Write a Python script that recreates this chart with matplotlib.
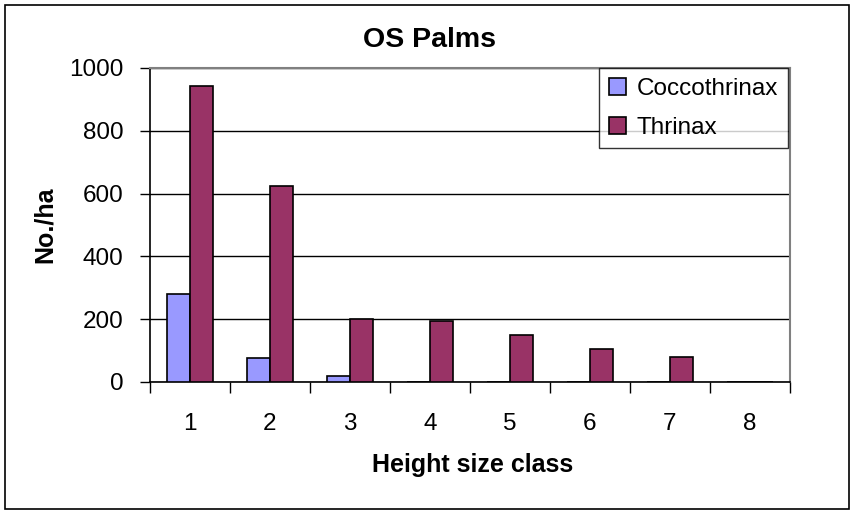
import numpy as np
import matplotlib.pyplot as plt
from matplotlib.patches import Rectangle

plt.rcParams['font.family'] = ['Liberation Sans', 'DejaVu Sans']

classes = [1, 2, 3, 4, 5, 6, 7, 8]
coccothrinax = [280, 78, 20, 0, 0, 0, 0, 0]
thrinax = [943, 625, 200, 194, 149, 105, 79, 0]

W, H = 854, 512
fig = plt.figure(figsize=(W / 100, H / 100), dpi=100)
ax = fig.add_axes([150 / W, 1 - 382 / H, 640 / W, 314 / H])

x = np.array(classes)
w = 1 / 3.5
ax.bar(x - w / 2, coccothrinax, w, color="#9999FF", edgecolor="black", linewidth=1.2,
       label="Coccothrinax", zorder=3)
ax.bar(x + w / 2, thrinax, w, color="#993366", edgecolor="black", linewidth=1.2,
       label="Thrinax", zorder=3)

ax.set_xlim(0.5, 8.5)
ax.set_ylim(0, 1000)
ax.set_yticks(range(0, 1001, 200))
ax.yaxis.grid(True, color="black", linewidth=1, zorder=0)

ax.set_xticks(np.arange(0.5, 9, 1))
ax.set_xticklabels([])
ax.set_xticks(x, minor=True)
ax.set_xticklabels([str(c) for c in classes], minor=True)
ax.tick_params(axis="x", which="major", length=8, width=1, direction="out")
ax.tick_params(axis="x", which="minor", length=0, pad=22, labelsize=17.5)
ax.tick_params(axis="y", length=7, width=1, direction="out", pad=12, labelsize=17.5)

for s in ["left", "bottom"]:
    ax.spines[s].set_color("black")
    ax.spines[s].set_linewidth(1.2)
for s in ["top", "right"]:
    ax.spines[s].set_color("#808080")
    ax.spines[s].set_linewidth(1.5)

fig.text(430 / W, 1 - 40 / H, "OS Palms", ha="center", va="center",
         fontsize=20.5, fontweight="bold")
fig.text(473 / W, 1 - 465 / H, "Height size class", ha="center", va="center",
         fontsize=18, fontweight="bold")
fig.text(45 / W, 1 - 225 / H, "No./ha", ha="center", va="center", rotation=90,
         fontsize=18, fontweight="bold")

leg = ax.legend(loc="upper right", bbox_to_anchor=(788 / W, 1 - 68 / H),
                bbox_transform=fig.transFigure, fontsize=17.5, frameon=True,
                fancybox=False, borderaxespad=0, handlelength=0.7, handleheight=0.7,
                handletextpad=0.45, labelspacing=0.7, borderpad=0.4)
leg.get_frame().set_edgecolor("black")
leg.get_frame().set_linewidth(1)
leg.set_zorder(5)

fig.patches.append(Rectangle((5 / W, 3 / H), 844 / W, 504 / H, transform=fig.transFigure,
                             fill=False, edgecolor="black", linewidth=1.2))

fig.savefig("out.png", dpi=100)
